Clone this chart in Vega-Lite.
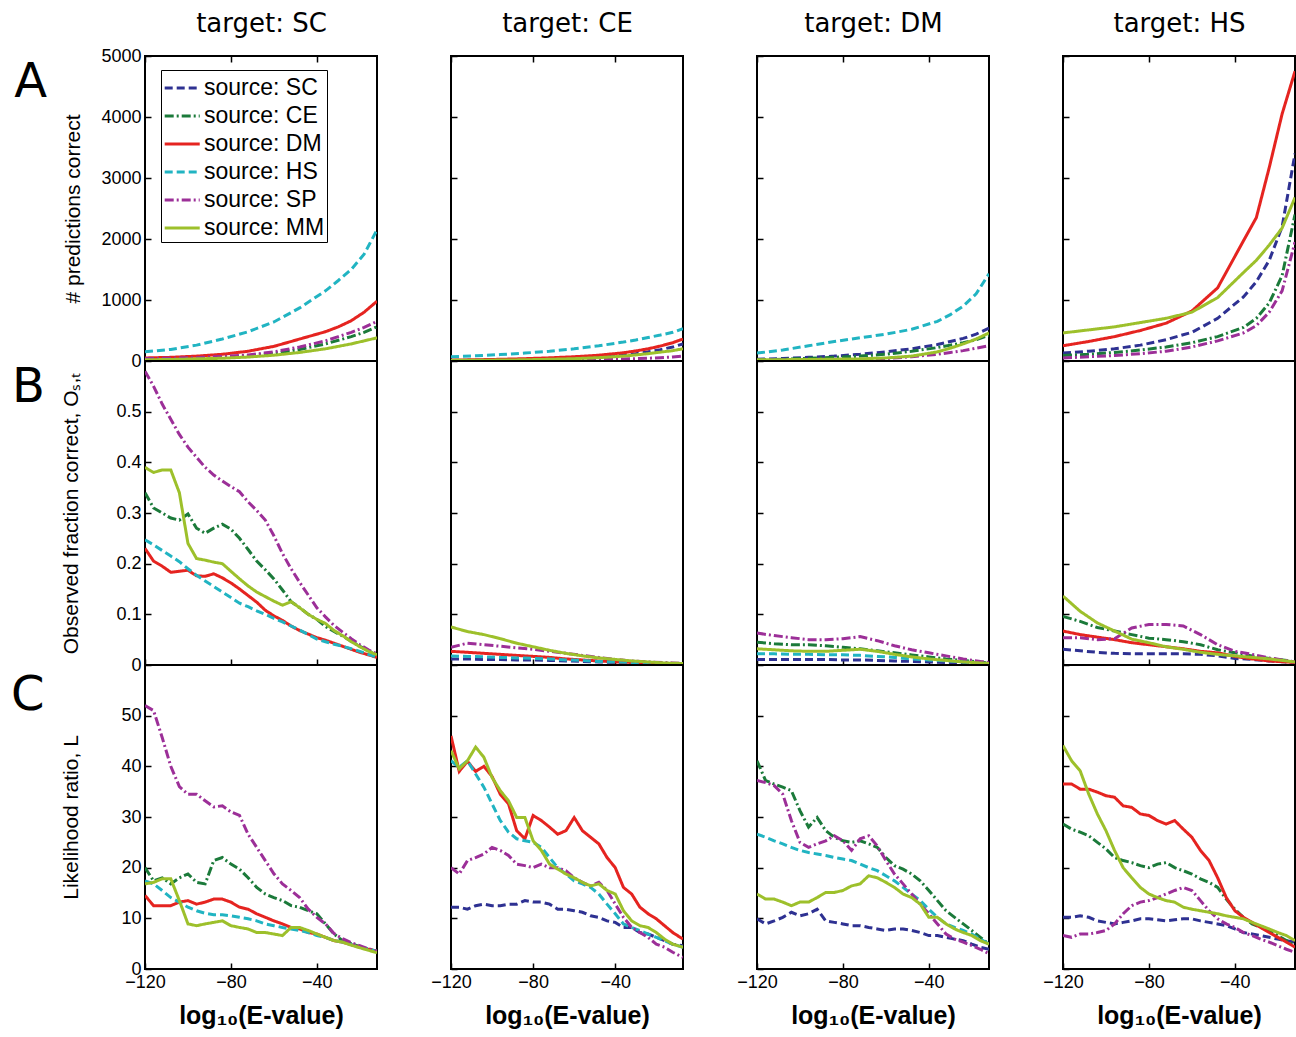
{
"$schema":"https://vega.github.io/schema/vega-lite/v6.json",
"padding":{"left":9,"top":9,"right":0,"bottom":0},
"background":"white",
"datasets":{"d":[
{"r":"A","t":"SC","x":-120,"CE":30,"DM":50,"HS":150,"SP":40,"MM":20},
{"r":"A","t":"SC","x":-108,"CE":35,"DM":60,"HS":190,"SP":45,"MM":25},
{"r":"A","t":"SC","x":-96,"CE":45,"DM":80,"HS":260,"SP":55,"MM":35},
{"r":"A","t":"SC","x":-84,"CE":60,"DM":110,"HS":360,"SP":75,"MM":45},
{"r":"A","t":"SC","x":-72,"CE":85,"DM":160,"HS":480,"SP":100,"MM":65},
{"r":"A","t":"SC","x":-60,"CE":125,"DM":240,"HS":640,"SP":150,"MM":95},
{"r":"A","t":"SC","x":-48,"CE":190,"DM":360,"HS":870,"SP":230,"MM":140},
{"r":"A","t":"SC","x":-36,"CE":280,"DM":480,"HS":1150,"SP":330,"MM":200},
{"r":"A","t":"SC","x":-30,"CE":340,"DM":560,"HS":1320,"SP":400,"MM":240},
{"r":"A","t":"SC","x":-24,"CE":400,"DM":660,"HS":1500,"SP":470,"MM":280},
{"r":"A","t":"SC","x":-18,"CE":470,"DM":800,"HS":1750,"SP":550,"MM":330},
{"r":"A","t":"SC","x":-12,"CE":560,"DM":980,"HS":2150,"SP":650,"MM":380},
{"r":"A","t":"CE","x":-120,"SC":10,"DM":15,"HS":70,"SP":5,"MM":10},
{"r":"A","t":"CE","x":-108,"SC":12,"DM":20,"HS":85,"SP":6,"MM":12},
{"r":"A","t":"CE","x":-96,"SC":15,"DM":28,"HS":105,"SP":8,"MM":15},
{"r":"A","t":"CE","x":-84,"SC":20,"DM":38,"HS":130,"SP":10,"MM":20},
{"r":"A","t":"CE","x":-72,"SC":30,"DM":52,"HS":160,"SP":13,"MM":28},
{"r":"A","t":"CE","x":-60,"SC":45,"DM":70,"HS":200,"SP":17,"MM":38},
{"r":"A","t":"CE","x":-48,"SC":65,"DM":95,"HS":250,"SP":23,"MM":55},
{"r":"A","t":"CE","x":-36,"SC":95,"DM":135,"HS":310,"SP":32,"MM":80},
{"r":"A","t":"CE","x":-30,"SC":120,"DM":165,"HS":345,"SP":38,"MM":100},
{"r":"A","t":"CE","x":-24,"SC":150,"DM":200,"HS":385,"SP":45,"MM":120},
{"r":"A","t":"CE","x":-18,"SC":185,"DM":245,"HS":425,"SP":55,"MM":145},
{"r":"A","t":"CE","x":-12,"SC":230,"DM":300,"HS":470,"SP":65,"MM":170},
{"r":"A","t":"CE","x":-7,"SC":280,"DM":360,"HS":530,"SP":80,"MM":200},
{"r":"A","t":"DM","x":-120,"SC":30,"CE":20,"HS":130,"SP":10,"MM":20},
{"r":"A","t":"DM","x":-108,"SC":40,"CE":30,"HS":180,"SP":12,"MM":22},
{"r":"A","t":"DM","x":-96,"SC":60,"CE":45,"HS":250,"SP":15,"MM":25},
{"r":"A","t":"DM","x":-84,"SC":80,"CE":60,"HS":320,"SP":20,"MM":30},
{"r":"A","t":"DM","x":-72,"SC":110,"CE":80,"HS":380,"SP":25,"MM":35},
{"r":"A","t":"DM","x":-60,"SC":150,"CE":110,"HS":440,"SP":40,"MM":50},
{"r":"A","t":"DM","x":-48,"SC":200,"CE":160,"HS":520,"SP":70,"MM":80},
{"r":"A","t":"DM","x":-36,"SC":270,"CE":220,"HS":650,"SP":110,"MM":150},
{"r":"A","t":"DM","x":-30,"SC":320,"CE":260,"HS":760,"SP":140,"MM":210},
{"r":"A","t":"DM","x":-24,"SC":370,"CE":300,"HS":900,"SP":170,"MM":280},
{"r":"A","t":"DM","x":-18,"SC":440,"CE":350,"HS":1100,"SP":210,"MM":360},
{"r":"A","t":"DM","x":-12,"SC":540,"CE":420,"HS":1430,"SP":250,"MM":460},
{"r":"A","t":"HS","x":-120,"SC":130,"CE":90,"DM":250,"SP":50,"MM":460},
{"r":"A","t":"HS","x":-108,"SC":160,"CE":110,"DM":320,"SP":70,"MM":510},
{"r":"A","t":"HS","x":-96,"SC":200,"CE":140,"DM":400,"SP":90,"MM":560},
{"r":"A","t":"HS","x":-84,"SC":260,"CE":180,"DM":500,"SP":120,"MM":630},
{"r":"A","t":"HS","x":-72,"SC":350,"CE":230,"DM":620,"SP":160,"MM":700},
{"r":"A","t":"HS","x":-60,"SC":470,"CE":300,"DM":820,"SP":230,"MM":800},
{"r":"A","t":"HS","x":-48,"SC":700,"CE":400,"DM":1200,"SP":330,"MM":1040},
{"r":"A","t":"HS","x":-36,"SC":1050,"CE":550,"DM":1970,"SP":460,"MM":1450},
{"r":"A","t":"HS","x":-30,"SC":1300,"CE":700,"DM":2350,"SP":580,"MM":1650},
{"r":"A","t":"HS","x":-24,"SC":1650,"CE":950,"DM":3170,"SP":800,"MM":1900},
{"r":"A","t":"HS","x":-18,"SC":2200,"CE":1400,"DM":4050,"SP":1150,"MM":2180},
{"r":"A","t":"HS","x":-12,"SC":3400,"CE":2400,"DM":4750,"SP":1950,"MM":2680},
{"r":"B","t":"SC","x":-120,"CE":0.34,"DM":0.23,"HS":0.247,"SP":0.58,"MM":0.39},
{"r":"B","t":"SC","x":-116,"CE":0.31,"DM":0.205,"HS":0.237,"SP":0.55,"MM":0.38},
{"r":"B","t":"SC","x":-112,"CE":0.30,"DM":0.195,"HS":0.226,"SP":0.515,"MM":0.385},
{"r":"B","t":"SC","x":-108,"CE":0.29,"DM":0.183,"HS":0.215,"SP":0.485,"MM":0.385},
{"r":"B","t":"SC","x":-104,"CE":0.286,"DM":0.185,"HS":0.204,"SP":0.455,"MM":0.34},
{"r":"B","t":"SC","x":-100,"CE":0.298,"DM":0.187,"HS":0.19,"SP":0.43,"MM":0.24},
{"r":"B","t":"SC","x":-96,"CE":0.27,"DM":0.176,"HS":0.177,"SP":0.41,"MM":0.21},
{"r":"B","t":"SC","x":-92,"CE":0.26,"DM":0.175,"HS":0.166,"SP":0.39,"MM":0.207},
{"r":"B","t":"SC","x":-88,"CE":0.27,"DM":0.18,"HS":0.155,"SP":0.375,"MM":0.203},
{"r":"B","t":"SC","x":-84,"CE":0.278,"DM":0.172,"HS":0.144,"SP":0.363,"MM":0.2},
{"r":"B","t":"SC","x":-80,"CE":0.268,"DM":0.162,"HS":0.133,"SP":0.352,"MM":0.185},
{"r":"B","t":"SC","x":-76,"CE":0.25,"DM":0.15,"HS":0.122,"SP":0.342,"MM":0.17},
{"r":"B","t":"SC","x":-72,"CE":0.228,"DM":0.137,"HS":0.115,"SP":0.322,"MM":0.156},
{"r":"B","t":"SC","x":-68,"CE":0.205,"DM":0.124,"HS":0.107,"SP":0.305,"MM":0.144},
{"r":"B","t":"SC","x":-64,"CE":0.188,"DM":0.108,"HS":0.1,"SP":0.286,"MM":0.135},
{"r":"B","t":"SC","x":-60,"CE":0.17,"DM":0.097,"HS":0.092,"SP":0.255,"MM":0.126},
{"r":"B","t":"SC","x":-56,"CE":0.148,"DM":0.088,"HS":0.085,"SP":0.22,"MM":0.118},
{"r":"B","t":"SC","x":-52,"CE":0.125,"DM":0.077,"HS":0.077,"SP":0.19,"MM":0.125},
{"r":"B","t":"SC","x":-48,"CE":0.113,"DM":0.068,"HS":0.069,"SP":0.163,"MM":0.113},
{"r":"B","t":"SC","x":-44,"CE":0.1,"DM":0.061,"HS":0.06,"SP":0.138,"MM":0.1},
{"r":"B","t":"SC","x":-40,"CE":0.09,"DM":0.054,"HS":0.051,"SP":0.113,"MM":0.09},
{"r":"B","t":"SC","x":-36,"CE":0.076,"DM":0.049,"HS":0.046,"SP":0.095,"MM":0.082},
{"r":"B","t":"SC","x":-32,"CE":0.066,"DM":0.043,"HS":0.041,"SP":0.078,"MM":0.068},
{"r":"B","t":"SC","x":-28,"CE":0.057,"DM":0.037,"HS":0.037,"SP":0.065,"MM":0.058},
{"r":"B","t":"SC","x":-24,"CE":0.047,"DM":0.031,"HS":0.032,"SP":0.052,"MM":0.046},
{"r":"B","t":"SC","x":-20,"CE":0.037,"DM":0.025,"HS":0.027,"SP":0.04,"MM":0.036},
{"r":"B","t":"SC","x":-16,"CE":0.028,"DM":0.02,"HS":0.021,"SP":0.03,"MM":0.027},
{"r":"B","t":"SC","x":-12,"CE":0.02,"DM":0.015,"HS":0.015,"SP":0.022,"MM":0.02},
{"r":"B","t":"CE","x":-120,"SC":0.012,"DM":0.027,"HS":0.018,"SP":0.035,"MM":0.075},
{"r":"B","t":"CE","x":-112,"SC":0.012,"DM":0.025,"HS":0.017,"SP":0.043,"MM":0.066},
{"r":"B","t":"CE","x":-104,"SC":0.011,"DM":0.023,"HS":0.016,"SP":0.04,"MM":0.06},
{"r":"B","t":"CE","x":-96,"SC":0.011,"DM":0.021,"HS":0.015,"SP":0.037,"MM":0.052},
{"r":"B","t":"CE","x":-88,"SC":0.01,"DM":0.019,"HS":0.014,"SP":0.034,"MM":0.043},
{"r":"B","t":"CE","x":-80,"SC":0.01,"DM":0.017,"HS":0.013,"SP":0.031,"MM":0.036},
{"r":"B","t":"CE","x":-72,"SC":0.009,"DM":0.015,"HS":0.012,"SP":0.027,"MM":0.029},
{"r":"B","t":"CE","x":-64,"SC":0.008,"DM":0.012,"HS":0.01,"SP":0.023,"MM":0.023},
{"r":"B","t":"CE","x":-56,"SC":0.007,"DM":0.01,"HS":0.009,"SP":0.019,"MM":0.018},
{"r":"B","t":"CE","x":-48,"SC":0.006,"DM":0.008,"HS":0.007,"SP":0.015,"MM":0.014},
{"r":"B","t":"CE","x":-40,"SC":0.005,"DM":0.006,"HS":0.006,"SP":0.011,"MM":0.011},
{"r":"B","t":"CE","x":-32,"SC":0.004,"DM":0.005,"HS":0.005,"SP":0.008,"MM":0.008},
{"r":"B","t":"CE","x":-24,"SC":0.003,"DM":0.004,"HS":0.004,"SP":0.006,"MM":0.006},
{"r":"B","t":"CE","x":-16,"SC":0.003,"DM":0.003,"HS":0.003,"SP":0.005,"MM":0.004},
{"r":"B","t":"CE","x":-12,"SC":0.002,"DM":0.003,"HS":0.002,"SP":0.004,"MM":0.0035},
{"r":"B","t":"CE","x":-7,"SC":0.002,"DM":0.002,"HS":0.002,"SP":0.003,"MM":0.003},
{"r":"B","t":"DM","x":-120,"SC":0.011,"CE":0.045,"HS":0.022,"SP":0.063,"MM":0.032},
{"r":"B","t":"DM","x":-112,"SC":0.011,"CE":0.042,"HS":0.022,"SP":0.058,"MM":0.03},
{"r":"B","t":"DM","x":-104,"SC":0.011,"CE":0.04,"HS":0.021,"SP":0.054,"MM":0.028},
{"r":"B","t":"DM","x":-96,"SC":0.011,"CE":0.04,"HS":0.021,"SP":0.05,"MM":0.027},
{"r":"B","t":"DM","x":-88,"SC":0.011,"CE":0.038,"HS":0.02,"SP":0.05,"MM":0.027},
{"r":"B","t":"DM","x":-80,"SC":0.01,"CE":0.035,"HS":0.02,"SP":0.052,"MM":0.029},
{"r":"B","t":"DM","x":-72,"SC":0.01,"CE":0.032,"HS":0.019,"SP":0.056,"MM":0.031},
{"r":"B","t":"DM","x":-64,"SC":0.009,"CE":0.028,"HS":0.017,"SP":0.048,"MM":0.027},
{"r":"B","t":"DM","x":-56,"SC":0.008,"CE":0.024,"HS":0.015,"SP":0.038,"MM":0.021},
{"r":"B","t":"DM","x":-48,"SC":0.007,"CE":0.02,"HS":0.012,"SP":0.03,"MM":0.016},
{"r":"B","t":"DM","x":-40,"SC":0.006,"CE":0.016,"HS":0.01,"SP":0.024,"MM":0.012},
{"r":"B","t":"DM","x":-32,"SC":0.005,"CE":0.012,"HS":0.008,"SP":0.018,"MM":0.009},
{"r":"B","t":"DM","x":-24,"SC":0.004,"CE":0.009,"HS":0.006,"SP":0.012,"MM":0.006},
{"r":"B","t":"DM","x":-16,"SC":0.003,"CE":0.006,"HS":0.004,"SP":0.007,"MM":0.004},
{"r":"B","t":"DM","x":-12,"SC":0.002,"CE":0.004,"HS":0.003,"SP":0.005,"MM":0.003},
{"r":"B","t":"HS","x":-120,"SC":0.031,"CE":0.096,"DM":0.067,"SP":0.054,"MM":0.136},
{"r":"B","t":"HS","x":-112,"SC":0.028,"CE":0.086,"DM":0.06,"SP":0.054,"MM":0.106},
{"r":"B","t":"HS","x":-104,"SC":0.025,"CE":0.074,"DM":0.055,"SP":0.05,"MM":0.083},
{"r":"B","t":"HS","x":-96,"SC":0.023,"CE":0.067,"DM":0.05,"SP":0.052,"MM":0.067},
{"r":"B","t":"HS","x":-88,"SC":0.022,"CE":0.06,"DM":0.044,"SP":0.073,"MM":0.051},
{"r":"B","t":"HS","x":-80,"SC":0.022,"CE":0.053,"DM":0.04,"SP":0.08,"MM":0.044},
{"r":"B","t":"HS","x":-72,"SC":0.022,"CE":0.05,"DM":0.036,"SP":0.08,"MM":0.036},
{"r":"B","t":"HS","x":-64,"SC":0.022,"CE":0.046,"DM":0.032,"SP":0.077,"MM":0.031},
{"r":"B","t":"HS","x":-56,"SC":0.021,"CE":0.04,"DM":0.027,"SP":0.06,"MM":0.025},
{"r":"B","t":"HS","x":-48,"SC":0.018,"CE":0.03,"DM":0.024,"SP":0.04,"MM":0.021},
{"r":"B","t":"HS","x":-40,"SC":0.013,"CE":0.024,"DM":0.017,"SP":0.027,"MM":0.018},
{"r":"B","t":"HS","x":-32,"SC":0.011,"CE":0.018,"DM":0.012,"SP":0.021,"MM":0.015},
{"r":"B","t":"HS","x":-24,"SC":0.008,"CE":0.013,"DM":0.008,"SP":0.014,"MM":0.012},
{"r":"B","t":"HS","x":-16,"SC":0.006,"CE":0.009,"DM":0.006,"SP":0.009,"MM":0.008},
{"r":"B","t":"HS","x":-12,"SC":0.005,"CE":0.006,"DM":0.005,"SP":0.006,"MM":0.006},
{"r":"C","t":"SC","x":-120,"CE":20,"DM":14.5,"HS":17.4,"SP":52,"MM":16.8},
{"r":"C","t":"SC","x":-116,"CE":17.4,"DM":12.5,"HS":16.8,"SP":51,"MM":17.1},
{"r":"C","t":"SC","x":-112,"CE":18,"DM":12.5,"HS":15.5,"SP":45.7,"MM":17.8},
{"r":"C","t":"SC","x":-108,"CE":16.8,"DM":12.5,"HS":14.1,"SP":40,"MM":17.8},
{"r":"C","t":"SC","x":-104,"CE":18,"DM":13.2,"HS":13.2,"SP":36,"MM":13.5},
{"r":"C","t":"SC","x":-100,"CE":18.75,"DM":13.5,"HS":12.2,"SP":34.5,"MM":8.9},
{"r":"C","t":"SC","x":-96,"CE":17.1,"DM":12.8,"HS":11.5,"SP":34.5,"MM":8.55},
{"r":"C","t":"SC","x":-92,"CE":16.8,"DM":13.2,"HS":11,"SP":33.2,"MM":8.9},
{"r":"C","t":"SC","x":-88,"CE":21.4,"DM":13.8,"HS":10.7,"SP":32,"MM":9.2},
{"r":"C","t":"SC","x":-84,"CE":22,"DM":13.8,"HS":10.7,"SP":32.2,"MM":9.5},
{"r":"C","t":"SC","x":-80,"CE":20.7,"DM":13.2,"HS":10.5,"SP":31,"MM":8.55},
{"r":"C","t":"SC","x":-76,"CE":19.7,"DM":12.2,"HS":10.2,"SP":30.3,"MM":8.2},
{"r":"C","t":"SC","x":-72,"CE":18,"DM":11.8,"HS":9.9,"SP":26.6,"MM":7.9},
{"r":"C","t":"SC","x":-68,"CE":16.1,"DM":10.9,"HS":9.5,"SP":24,"MM":7.2},
{"r":"C","t":"SC","x":-64,"CE":14.8,"DM":10.2,"HS":8.9,"SP":21.4,"MM":7.2},
{"r":"C","t":"SC","x":-60,"CE":14.1,"DM":9.5,"HS":8.55,"SP":18.8,"MM":6.9},
{"r":"C","t":"SC","x":-56,"CE":13.5,"DM":8.9,"HS":8.2,"SP":16.8,"MM":6.6},
{"r":"C","t":"SC","x":-52,"CE":12.5,"DM":8.2,"HS":7.9,"SP":15.5,"MM":8.2},
{"r":"C","t":"SC","x":-48,"CE":12.2,"DM":7.9,"HS":7.6,"SP":14.1,"MM":8.2},
{"r":"C","t":"SC","x":-44,"CE":11.5,"DM":7.2,"HS":7.2,"SP":11.8,"MM":7.6},
{"r":"C","t":"SC","x":-40,"CE":10.9,"DM":6.9,"HS":6.6,"SP":10.2,"MM":6.9},
{"r":"C","t":"SC","x":-36,"CE":8.9,"DM":6.25,"HS":6.25,"SP":8.9,"MM":6.25},
{"r":"C","t":"SC","x":-32,"CE":6.9,"DM":5.6,"HS":5.6,"SP":7,"MM":5.6},
{"r":"C","t":"SC","x":-28,"CE":5.6,"DM":5.3,"HS":5.3,"SP":6,"MM":5.3},
{"r":"C","t":"SC","x":-24,"CE":5,"DM":4.8,"HS":4.8,"SP":5.2,"MM":4.7},
{"r":"C","t":"SC","x":-20,"CE":4.4,"DM":4.3,"HS":4.3,"SP":4.6,"MM":4.2},
{"r":"C","t":"SC","x":-16,"CE":3.9,"DM":3.9,"HS":3.9,"SP":4,"MM":3.7},
{"r":"C","t":"SC","x":-12,"CE":3.5,"DM":3.5,"HS":3.5,"SP":3.5,"MM":3.2},
{"r":"C","t":"CE","x":-120,"SC":12.2,"DM":46,"HS":41.1,"SP":20,"MM":43.1},
{"r":"C","t":"CE","x":-116,"SC":12.2,"DM":39,"HS":39.8,"SP":18.75,"MM":39.5},
{"r":"C","t":"CE","x":-112,"SC":11.8,"DM":41,"HS":41.1,"SP":21.4,"MM":41.1},
{"r":"C","t":"CE","x":-108,"SC":12.5,"DM":39,"HS":38.5,"SP":22,"MM":43.8},
{"r":"C","t":"CE","x":-104,"SC":12.8,"DM":40,"HS":35.9,"SP":22.7,"MM":41.8},
{"r":"C","t":"CE","x":-100,"SC":12.5,"DM":38,"HS":32.6,"SP":24,"MM":37.8},
{"r":"C","t":"CE","x":-96,"SC":12.5,"DM":34.5,"HS":29.3,"SP":23.4,"MM":35.2},
{"r":"C","t":"CE","x":-92,"SC":12.8,"DM":32.6,"HS":27,"SP":22.4,"MM":33.2},
{"r":"C","t":"CE","x":-88,"SC":12.8,"DM":27.3,"HS":25.7,"SP":20.7,"MM":29.9},
{"r":"C","t":"CE","x":-84,"SC":13.5,"DM":25.7,"HS":25.3,"SP":20.4,"MM":29.9},
{"r":"C","t":"CE","x":-80,"SC":13.2,"DM":30.3,"HS":25,"SP":20,"MM":25.3},
{"r":"C","t":"CE","x":-76,"SC":13.2,"DM":29.3,"HS":24,"SP":20.7,"MM":23.4},
{"r":"C","t":"CE","x":-72,"SC":12.8,"DM":28,"HS":22,"SP":20,"MM":20.7},
{"r":"C","t":"CE","x":-68,"SC":11.8,"DM":26.6,"HS":20,"SP":20,"MM":19.7},
{"r":"C","t":"CE","x":-64,"SC":11.8,"DM":27.3,"HS":18.75,"SP":19.4,"MM":18.75},
{"r":"C","t":"CE","x":-60,"SC":11.5,"DM":29.9,"HS":17.4,"SP":18,"MM":18},
{"r":"C","t":"CE","x":-56,"SC":11.2,"DM":27.3,"HS":16.8,"SP":17.1,"MM":17.1},
{"r":"C","t":"CE","x":-52,"SC":10.5,"DM":26,"HS":16.1,"SP":16.4,"MM":16.4},
{"r":"C","t":"CE","x":-48,"SC":10.2,"DM":24.7,"HS":14.8,"SP":17.1,"MM":16.8},
{"r":"C","t":"CE","x":-44,"SC":9.5,"DM":22,"HS":12.8,"SP":15.5,"MM":15.5},
{"r":"C","t":"CE","x":-40,"SC":9.2,"DM":20,"HS":10.9,"SP":12.8,"MM":14.8},
{"r":"C","t":"CE","x":-36,"SC":8.2,"DM":16.1,"HS":8.9,"SP":10.2,"MM":11.5},
{"r":"C","t":"CE","x":-32,"SC":8.2,"DM":14.8,"HS":8.2,"SP":8.2,"MM":9.5},
{"r":"C","t":"CE","x":-28,"SC":7.2,"DM":12.2,"HS":7.6,"SP":7.2,"MM":8.55},
{"r":"C","t":"CE","x":-24,"SC":6.9,"DM":10.9,"HS":6.9,"SP":6.25,"MM":8.2},
{"r":"C","t":"CE","x":-20,"SC":6.25,"DM":9.9,"HS":6.25,"SP":4.9,"MM":7.2},
{"r":"C","t":"CE","x":-16,"SC":5.6,"DM":8.55,"HS":5.6,"SP":4.3,"MM":5.9},
{"r":"C","t":"CE","x":-12,"SC":4.9,"DM":7.2,"HS":4.9,"SP":3.3,"MM":4.9},
{"r":"C","t":"CE","x":-7,"SC":4.6,"DM":5.9,"HS":4.3,"SP":2.3,"MM":4.3},
{"r":"C","t":"DM","x":-120,"SC":9.9,"CE":41.1,"HS":26.6,"SP":37.2,"MM":14.8},
{"r":"C","t":"DM","x":-116,"SC":8.9,"CE":37.2,"HS":26,"SP":36.8,"MM":13.8},
{"r":"C","t":"DM","x":-112,"SC":9.5,"CE":36.5,"HS":25.3,"SP":36.2,"MM":13.8},
{"r":"C","t":"DM","x":-108,"SC":10.2,"CE":35.9,"HS":24.7,"SP":34.5,"MM":13.2},
{"r":"C","t":"DM","x":-104,"SC":11.2,"CE":35.2,"HS":24,"SP":29.3,"MM":12.5},
{"r":"C","t":"DM","x":-100,"SC":10.5,"CE":31.25,"HS":23.4,"SP":25,"MM":13.2},
{"r":"C","t":"DM","x":-96,"SC":10.9,"CE":28,"HS":23,"SP":24,"MM":13.2},
{"r":"C","t":"DM","x":-92,"SC":11.8,"CE":29.9,"HS":22.7,"SP":24.7,"MM":14.1},
{"r":"C","t":"DM","x":-88,"SC":9.5,"CE":27.3,"HS":22.4,"SP":25.3,"MM":15.1},
{"r":"C","t":"DM","x":-84,"SC":9.2,"CE":26,"HS":22,"SP":26.3,"MM":15.1},
{"r":"C","t":"DM","x":-80,"SC":8.9,"CE":25.3,"HS":21.7,"SP":25.3,"MM":15.5},
{"r":"C","t":"DM","x":-76,"SC":8.55,"CE":25,"HS":21.4,"SP":23.4,"MM":16.4},
{"r":"C","t":"DM","x":-72,"SC":8.55,"CE":25.3,"HS":20.7,"SP":25.7,"MM":16.8},
{"r":"C","t":"DM","x":-68,"SC":8.2,"CE":24.7,"HS":20,"SP":26.3,"MM":18.4},
{"r":"C","t":"DM","x":-64,"SC":7.9,"CE":24,"HS":19.4,"SP":24.3,"MM":18},
{"r":"C","t":"DM","x":-60,"SC":7.6,"CE":22,"HS":18.4,"SP":21.4,"MM":17.1},
{"r":"C","t":"DM","x":-56,"SC":7.9,"CE":20.4,"HS":17.4,"SP":18.75,"MM":16.1},
{"r":"C","t":"DM","x":-52,"SC":7.9,"CE":19.7,"HS":16.1,"SP":16.8,"MM":14.8},
{"r":"C","t":"DM","x":-48,"SC":7.6,"CE":18.75,"HS":14.8,"SP":14.8,"MM":14.1},
{"r":"C","t":"DM","x":-44,"SC":7.2,"CE":17.4,"HS":13.5,"SP":12.8,"MM":12.8},
{"r":"C","t":"DM","x":-40,"SC":6.6,"CE":15.5,"HS":11.8,"SP":10.9,"MM":10.2},
{"r":"C","t":"DM","x":-36,"SC":6.6,"CE":13.5,"HS":10.2,"SP":8.9,"MM":10.2},
{"r":"C","t":"DM","x":-32,"SC":6.25,"CE":11.5,"HS":8.9,"SP":6.9,"MM":8.9},
{"r":"C","t":"DM","x":-28,"SC":5.9,"CE":10.2,"HS":8.2,"SP":5.9,"MM":7.9},
{"r":"C","t":"DM","x":-24,"SC":5.6,"CE":8.9,"HS":7.6,"SP":5.3,"MM":7.2},
{"r":"C","t":"DM","x":-20,"SC":4.9,"CE":7.6,"HS":6.9,"SP":4.6,"MM":6.6},
{"r":"C","t":"DM","x":-16,"SC":4.3,"CE":6.25,"HS":5.9,"SP":3.9,"MM":5.6},
{"r":"C","t":"DM","x":-12,"SC":3.9,"CE":4.9,"HS":4.9,"SP":3,"MM":4.9},
{"r":"C","t":"HS","x":-120,"SC":10.2,"CE":28.6,"DM":36.5,"SP":6.6,"MM":44.1},
{"r":"C","t":"HS","x":-116,"SC":10.2,"CE":27.6,"DM":36.5,"SP":6.25,"MM":41.1},
{"r":"C","t":"HS","x":-112,"SC":10.5,"CE":27,"DM":35.5,"SP":6.9,"MM":39.1},
{"r":"C","t":"HS","x":-108,"SC":10.2,"CE":26.3,"DM":35.5,"SP":6.9,"MM":34.5},
{"r":"C","t":"HS","x":-104,"SC":9.5,"CE":25,"DM":34.9,"SP":7.2,"MM":30.6},
{"r":"C","t":"HS","x":-100,"SC":9.2,"CE":23.7,"DM":34.2,"SP":7.6,"MM":27.3},
{"r":"C","t":"HS","x":-96,"SC":8.9,"CE":22,"DM":33.9,"SP":8.9,"MM":23.4},
{"r":"C","t":"HS","x":-92,"SC":9.2,"CE":21.4,"DM":32.2,"SP":10.9,"MM":20},
{"r":"C","t":"HS","x":-88,"SC":9.5,"CE":21,"DM":31.9,"SP":12.5,"MM":18},
{"r":"C","t":"HS","x":-84,"SC":9.9,"CE":20.4,"DM":30.6,"SP":13.2,"MM":16.1},
{"r":"C","t":"HS","x":-80,"SC":9.9,"CE":20,"DM":30.3,"SP":13.5,"MM":14.8},
{"r":"C","t":"HS","x":-76,"SC":9.7,"CE":20.7,"DM":29.3,"SP":14.1,"MM":14.1},
{"r":"C","t":"HS","x":-72,"SC":9.5,"CE":21,"DM":28.6,"SP":14.8,"MM":13.5},
{"r":"C","t":"HS","x":-68,"SC":9.7,"CE":20,"DM":29.3,"SP":15.5,"MM":13.2},
{"r":"C","t":"HS","x":-64,"SC":9.9,"CE":19.4,"DM":27.6,"SP":16.1,"MM":12.2},
{"r":"C","t":"HS","x":-60,"SC":9.9,"CE":18.75,"DM":26,"SP":15.5,"MM":11.8},
{"r":"C","t":"HS","x":-56,"SC":9.5,"CE":17.8,"DM":23.4,"SP":13.5,"MM":11.5},
{"r":"C","t":"HS","x":-52,"SC":9.2,"CE":17.1,"DM":21.4,"SP":11.5,"MM":11.2},
{"r":"C","t":"HS","x":-48,"SC":8.9,"CE":16.1,"DM":18,"SP":9.9,"MM":10.9},
{"r":"C","t":"HS","x":-44,"SC":8.55,"CE":13.8,"DM":14.1,"SP":8.9,"MM":10.5},
{"r":"C","t":"HS","x":-40,"SC":7.9,"CE":11.8,"DM":11.5,"SP":8.2,"MM":10.2},
{"r":"C","t":"HS","x":-36,"SC":7.2,"CE":10.2,"DM":10.2,"SP":7.2,"MM":9.9},
{"r":"C","t":"HS","x":-32,"SC":6.9,"CE":8.9,"DM":9.2,"SP":6.6,"MM":9.2},
{"r":"C","t":"HS","x":-28,"SC":6.6,"CE":8.2,"DM":8.2,"SP":5.9,"MM":8.55},
{"r":"C","t":"HS","x":-24,"SC":6.25,"CE":7.6,"DM":7.2,"SP":5.3,"MM":7.9},
{"r":"C","t":"HS","x":-20,"SC":5.9,"CE":6.6,"DM":6.25,"SP":4.6,"MM":7.2},
{"r":"C","t":"HS","x":-16,"SC":5.6,"CE":5.6,"DM":5.3,"SP":3.9,"MM":6.6},
{"r":"C","t":"HS","x":-12,"SC":5.3,"CE":4.6,"DM":4.3,"SP":3.3,"MM":5.6}
]},
"columns":4,
"bounds":"flush",
"spacing":{"row":0,"column":74},
"resolve":{"scale":{"x":"independent","y":"independent"},"legend":{"color":"independent","strokeDash":"independent"}},
"concat":[
{"width":232,"height":305,"data":{"name":"d"},
 "title":{"text":"A","orient":"left","anchor":"end","angle":0,"align":"right","baseline":"top","offset":-17,"dy":49},
 "transform":[{"filter":"datum.r=='A' && datum.t=='SC'"},{"fold":["SC","CE","DM","HS","SP","MM"],"as":["source","v"]},{"filter":"isValid(datum.v)"}],
 "mark":{"type":"line","strokeWidth":3,"clip":true},
 "encoding":{
  "x":{"field":"x","type":"quantitative","scale":{"domain":[-120,-12],"nice":false,"zero":false},"axis":{"orient":"top","values":[-120,-80,-40],"labels":false,"title":"target: SC","titleFont":"DejaVu Sans","titleFontSize":26,"titlePadding":19}},
  "y":{"field":"v","type":"quantitative","scale":{"domain":[0,5000],"nice":false},"axis":{"values":[0,1000,2000,3000,4000,5000],"format":"d","title":"# predictions correct","titlePadding":17}},
  "color":{"field":"source","type":"nominal","scale":{"domain":["SC","CE","DM","HS","SP","MM"],"range":["#2e3192","#1b7a3a","#e52420","#21b4c2","#9c2f98","#9dc02b"]},"legend":{"title":null,"orient":"none","legendX":16,"legendY":14,"labelExpr":"'source: ' + datum.label","labelFont":"Liberation Sans","labelFontSize":23,"labelColor":"black","symbolType":"M-1,0H1.45","symbolStrokeWidth":3,"symbolSize":818,"strokeColor":"black","fillColor":"white","padding":2,"rowPadding":0,"labelOffset":9,"cornerRadius":0}},
  "strokeDash":{"field":"source","type":"nominal","scale":{"domain":["SC","CE","DM","HS","SP","MM"],"range":[[8,4],[9,3,2,3],[1,0],[8,4],[9,3,2,3],[1,0]]},"legend":{"title":null,"orient":"none","legendX":16,"legendY":14,"labelExpr":"'source: ' + datum.label","labelFont":"Liberation Sans","labelFontSize":23,"labelColor":"black","symbolType":"M-1,0H1.45","symbolStrokeWidth":3,"symbolSize":818,"strokeColor":"black","fillColor":"white","padding":2,"rowPadding":0,"labelOffset":9,"cornerRadius":0}}
 }},
{"width":232,"height":305,"data":{"name":"d"},
 "transform":[{"filter":"datum.r=='A' && datum.t=='CE'"},{"fold":["SC","CE","DM","HS","SP","MM"],"as":["source","v"]},{"filter":"isValid(datum.v)"}],
 "mark":{"type":"line","strokeWidth":3,"clip":true},
 "encoding":{
  "x":{"field":"x","type":"quantitative","scale":{"domain":[-120,-7],"nice":false,"zero":false},"axis":{"orient":"top","values":[-120,-80,-40],"labels":false,"title":"target: CE","titleFont":"DejaVu Sans","titleFontSize":26,"titlePadding":19}},
  "y":{"field":"v","type":"quantitative","scale":{"domain":[0,5000],"nice":false},"axis":{"values":[0,1000,2000,3000,4000,5000],"labels":false,"title":null}},
  "color":{"field":"source","type":"nominal","scale":{"domain":["SC","CE","DM","HS","SP","MM"],"range":["#2e3192","#1b7a3a","#e52420","#21b4c2","#9c2f98","#9dc02b"]},"legend":null},
  "strokeDash":{"field":"source","type":"nominal","scale":{"domain":["SC","CE","DM","HS","SP","MM"],"range":[[8,4],[9,3,2,3],[1,0],[8,4],[9,3,2,3],[1,0]]},"legend":null}
 }},
{"width":232,"height":305,"data":{"name":"d"},
 "transform":[{"filter":"datum.r=='A' && datum.t=='DM'"},{"fold":["SC","CE","DM","HS","SP","MM"],"as":["source","v"]},{"filter":"isValid(datum.v)"}],
 "mark":{"type":"line","strokeWidth":3,"clip":true},
 "encoding":{
  "x":{"field":"x","type":"quantitative","scale":{"domain":[-120,-12],"nice":false,"zero":false},"axis":{"orient":"top","values":[-120,-80,-40],"labels":false,"title":"target: DM","titleFont":"DejaVu Sans","titleFontSize":26,"titlePadding":19}},
  "y":{"field":"v","type":"quantitative","scale":{"domain":[0,5000],"nice":false},"axis":{"values":[0,1000,2000,3000,4000,5000],"labels":false,"title":null}},
  "color":{"field":"source","type":"nominal","scale":{"domain":["SC","CE","DM","HS","SP","MM"],"range":["#2e3192","#1b7a3a","#e52420","#21b4c2","#9c2f98","#9dc02b"]},"legend":null},
  "strokeDash":{"field":"source","type":"nominal","scale":{"domain":["SC","CE","DM","HS","SP","MM"],"range":[[8,4],[9,3,2,3],[1,0],[8,4],[9,3,2,3],[1,0]]},"legend":null}
 }},
{"width":232,"height":305,"data":{"name":"d"},
 "transform":[{"filter":"datum.r=='A' && datum.t=='HS'"},{"fold":["SC","CE","DM","HS","SP","MM"],"as":["source","v"]},{"filter":"isValid(datum.v)"}],
 "mark":{"type":"line","strokeWidth":3,"clip":true},
 "encoding":{
  "x":{"field":"x","type":"quantitative","scale":{"domain":[-120,-12],"nice":false,"zero":false},"axis":{"orient":"top","values":[-120,-80,-40],"labels":false,"title":"target: HS","titleFont":"DejaVu Sans","titleFontSize":26,"titlePadding":19}},
  "y":{"field":"v","type":"quantitative","scale":{"domain":[0,5000],"nice":false},"axis":{"values":[0,1000,2000,3000,4000,5000],"labels":false,"title":null}},
  "color":{"field":"source","type":"nominal","scale":{"domain":["SC","CE","DM","HS","SP","MM"],"range":["#2e3192","#1b7a3a","#e52420","#21b4c2","#9c2f98","#9dc02b"]},"legend":null},
  "strokeDash":{"field":"source","type":"nominal","scale":{"domain":["SC","CE","DM","HS","SP","MM"],"range":[[8,4],[9,3,2,3],[1,0],[8,4],[9,3,2,3],[1,0]]},"legend":null}
 }},
{"width":232,"height":304,"data":{"name":"d"},
 "title":{"text":"B","orient":"left","anchor":"end","angle":0,"align":"right","baseline":"top","offset":-17,"dy":3},
 "transform":[{"filter":"datum.r=='B' && datum.t=='SC'"},{"fold":["SC","CE","DM","HS","SP","MM"],"as":["source","v"]},{"filter":"isValid(datum.v)"}],
 "mark":{"type":"line","strokeWidth":3,"clip":true},
 "encoding":{
  "x":{"field":"x","type":"quantitative","scale":{"domain":[-120,-12],"nice":false,"zero":false},"axis":{"values":[-120,-80,-40],"labels":false,"title":null}},
  "y":{"field":"v","type":"quantitative","scale":{"domain":[0,0.6],"nice":false},"axis":{"values":[0,0.1,0.2,0.3,0.4,0.5],"format":".1~f","title":"Observed fraction correct, Oₛ,ₜ","titlePadding":34}},
  "color":{"field":"source","type":"nominal","scale":{"domain":["SC","CE","DM","HS","SP","MM"],"range":["#2e3192","#1b7a3a","#e52420","#21b4c2","#9c2f98","#9dc02b"]},"legend":null},
  "strokeDash":{"field":"source","type":"nominal","scale":{"domain":["SC","CE","DM","HS","SP","MM"],"range":[[8,4],[9,3,2,3],[1,0],[8,4],[9,3,2,3],[1,0]]},"legend":null}
 }},
{"width":232,"height":304,"data":{"name":"d"},
 "transform":[{"filter":"datum.r=='B' && datum.t=='CE'"},{"fold":["SC","CE","DM","HS","SP","MM"],"as":["source","v"]},{"filter":"isValid(datum.v)"}],
 "mark":{"type":"line","strokeWidth":3,"clip":true},
 "encoding":{
  "x":{"field":"x","type":"quantitative","scale":{"domain":[-120,-7],"nice":false,"zero":false},"axis":{"values":[-120,-80,-40],"labels":false,"title":null}},
  "y":{"field":"v","type":"quantitative","scale":{"domain":[0,0.6],"nice":false},"axis":{"values":[0,0.1,0.2,0.3,0.4,0.5],"labels":false,"title":null}},
  "color":{"field":"source","type":"nominal","scale":{"domain":["SC","CE","DM","HS","SP","MM"],"range":["#2e3192","#1b7a3a","#e52420","#21b4c2","#9c2f98","#9dc02b"]},"legend":null},
  "strokeDash":{"field":"source","type":"nominal","scale":{"domain":["SC","CE","DM","HS","SP","MM"],"range":[[8,4],[9,3,2,3],[1,0],[8,4],[9,3,2,3],[1,0]]},"legend":null}
 }},
{"width":232,"height":304,"data":{"name":"d"},
 "transform":[{"filter":"datum.r=='B' && datum.t=='DM'"},{"fold":["SC","CE","DM","HS","SP","MM"],"as":["source","v"]},{"filter":"isValid(datum.v)"}],
 "mark":{"type":"line","strokeWidth":3,"clip":true},
 "encoding":{
  "x":{"field":"x","type":"quantitative","scale":{"domain":[-120,-12],"nice":false,"zero":false},"axis":{"values":[-120,-80,-40],"labels":false,"title":null}},
  "y":{"field":"v","type":"quantitative","scale":{"domain":[0,0.6],"nice":false},"axis":{"values":[0,0.1,0.2,0.3,0.4,0.5],"labels":false,"title":null}},
  "color":{"field":"source","type":"nominal","scale":{"domain":["SC","CE","DM","HS","SP","MM"],"range":["#2e3192","#1b7a3a","#e52420","#21b4c2","#9c2f98","#9dc02b"]},"legend":null},
  "strokeDash":{"field":"source","type":"nominal","scale":{"domain":["SC","CE","DM","HS","SP","MM"],"range":[[8,4],[9,3,2,3],[1,0],[8,4],[9,3,2,3],[1,0]]},"legend":null}
 }},
{"width":232,"height":304,"data":{"name":"d"},
 "transform":[{"filter":"datum.r=='B' && datum.t=='HS'"},{"fold":["SC","CE","DM","HS","SP","MM"],"as":["source","v"]},{"filter":"isValid(datum.v)"}],
 "mark":{"type":"line","strokeWidth":3,"clip":true},
 "encoding":{
  "x":{"field":"x","type":"quantitative","scale":{"domain":[-120,-12],"nice":false,"zero":false},"axis":{"values":[-120,-80,-40],"labels":false,"title":null}},
  "y":{"field":"v","type":"quantitative","scale":{"domain":[0,0.6],"nice":false},"axis":{"values":[0,0.1,0.2,0.3,0.4,0.5],"labels":false,"title":null}},
  "color":{"field":"source","type":"nominal","scale":{"domain":["SC","CE","DM","HS","SP","MM"],"range":["#2e3192","#1b7a3a","#e52420","#21b4c2","#9c2f98","#9dc02b"]},"legend":null},
  "strokeDash":{"field":"source","type":"nominal","scale":{"domain":["SC","CE","DM","HS","SP","MM"],"range":[[8,4],[9,3,2,3],[1,0],[8,4],[9,3,2,3],[1,0]]},"legend":null}
 }},
{"width":232,"height":304,"data":{"name":"d"},
 "title":{"text":"C","orient":"left","anchor":"end","angle":0,"align":"right","baseline":"top","offset":-17,"dy":7},
 "transform":[{"filter":"datum.r=='C' && datum.t=='SC'"},{"fold":["SC","CE","DM","HS","SP","MM"],"as":["source","v"]},{"filter":"isValid(datum.v)"}],
 "mark":{"type":"line","strokeWidth":3,"clip":true},
 "encoding":{
  "x":{"field":"x","type":"quantitative","scale":{"domain":[-120,-12],"nice":false,"zero":false},"axis":{"values":[-120,-80,-40],"title":"log₁₀(E-value)","titleFontWeight":"bold","titleFontSize":25,"titlePadding":12}},
  "y":{"field":"v","type":"quantitative","scale":{"domain":[0,60],"nice":false},"axis":{"values":[0,10,20,30,40,50],"format":"d","title":"Likelihood ratio, L","titlePadding":39}},
  "color":{"field":"source","type":"nominal","scale":{"domain":["SC","CE","DM","HS","SP","MM"],"range":["#2e3192","#1b7a3a","#e52420","#21b4c2","#9c2f98","#9dc02b"]},"legend":null},
  "strokeDash":{"field":"source","type":"nominal","scale":{"domain":["SC","CE","DM","HS","SP","MM"],"range":[[8,4],[9,3,2,3],[1,0],[8,4],[9,3,2,3],[1,0]]},"legend":null}
 }},
{"width":232,"height":304,"data":{"name":"d"},
 "transform":[{"filter":"datum.r=='C' && datum.t=='CE'"},{"fold":["SC","CE","DM","HS","SP","MM"],"as":["source","v"]},{"filter":"isValid(datum.v)"}],
 "mark":{"type":"line","strokeWidth":3,"clip":true},
 "encoding":{
  "x":{"field":"x","type":"quantitative","scale":{"domain":[-120,-7],"nice":false,"zero":false},"axis":{"values":[-120,-80,-40],"title":"log₁₀(E-value)","titleFontWeight":"bold","titleFontSize":25,"titlePadding":12}},
  "y":{"field":"v","type":"quantitative","scale":{"domain":[0,60],"nice":false},"axis":{"values":[0,10,20,30,40,50],"labels":false,"title":null}},
  "color":{"field":"source","type":"nominal","scale":{"domain":["SC","CE","DM","HS","SP","MM"],"range":["#2e3192","#1b7a3a","#e52420","#21b4c2","#9c2f98","#9dc02b"]},"legend":null},
  "strokeDash":{"field":"source","type":"nominal","scale":{"domain":["SC","CE","DM","HS","SP","MM"],"range":[[8,4],[9,3,2,3],[1,0],[8,4],[9,3,2,3],[1,0]]},"legend":null}
 }},
{"width":232,"height":304,"data":{"name":"d"},
 "transform":[{"filter":"datum.r=='C' && datum.t=='DM'"},{"fold":["SC","CE","DM","HS","SP","MM"],"as":["source","v"]},{"filter":"isValid(datum.v)"}],
 "mark":{"type":"line","strokeWidth":3,"clip":true},
 "encoding":{
  "x":{"field":"x","type":"quantitative","scale":{"domain":[-120,-12],"nice":false,"zero":false},"axis":{"values":[-120,-80,-40],"title":"log₁₀(E-value)","titleFontWeight":"bold","titleFontSize":25,"titlePadding":12}},
  "y":{"field":"v","type":"quantitative","scale":{"domain":[0,60],"nice":false},"axis":{"values":[0,10,20,30,40,50],"labels":false,"title":null}},
  "color":{"field":"source","type":"nominal","scale":{"domain":["SC","CE","DM","HS","SP","MM"],"range":["#2e3192","#1b7a3a","#e52420","#21b4c2","#9c2f98","#9dc02b"]},"legend":null},
  "strokeDash":{"field":"source","type":"nominal","scale":{"domain":["SC","CE","DM","HS","SP","MM"],"range":[[8,4],[9,3,2,3],[1,0],[8,4],[9,3,2,3],[1,0]]},"legend":null}
 }},
{"width":232,"height":304,"data":{"name":"d"},
 "transform":[{"filter":"datum.r=='C' && datum.t=='HS'"},{"fold":["SC","CE","DM","HS","SP","MM"],"as":["source","v"]},{"filter":"isValid(datum.v)"}],
 "mark":{"type":"line","strokeWidth":3,"clip":true},
 "encoding":{
  "x":{"field":"x","type":"quantitative","scale":{"domain":[-120,-12],"nice":false,"zero":false},"axis":{"values":[-120,-80,-40],"title":"log₁₀(E-value)","titleFontWeight":"bold","titleFontSize":25,"titlePadding":12}},
  "y":{"field":"v","type":"quantitative","scale":{"domain":[0,60],"nice":false},"axis":{"values":[0,10,20,30,40,50],"labels":false,"title":null}},
  "color":{"field":"source","type":"nominal","scale":{"domain":["SC","CE","DM","HS","SP","MM"],"range":["#2e3192","#1b7a3a","#e52420","#21b4c2","#9c2f98","#9dc02b"]},"legend":null},
  "strokeDash":{"field":"source","type":"nominal","scale":{"domain":["SC","CE","DM","HS","SP","MM"],"range":[[8,4],[9,3,2,3],[1,0],[8,4],[9,3,2,3],[1,0]]},"legend":null}
 }}
],
"config":{
 "view":{"stroke":"black","strokeWidth":2},
 "axis":{"grid":false,"domain":false,"tickColor":"black","tickSize":-6,"tickWidth":1.5,"labelFont":"Liberation Sans","labelFontSize":18,"labelColor":"black","labelPadding":10,"labelOverlap":false,"labelFlush":false,"titleFont":"Liberation Sans","titleFontSize":21,"titleFontWeight":"normal","titleColor":"black"},
 "title":{"font":"DejaVu Sans","fontSize":48,"fontWeight":"normal","color":"black"}
}
}
